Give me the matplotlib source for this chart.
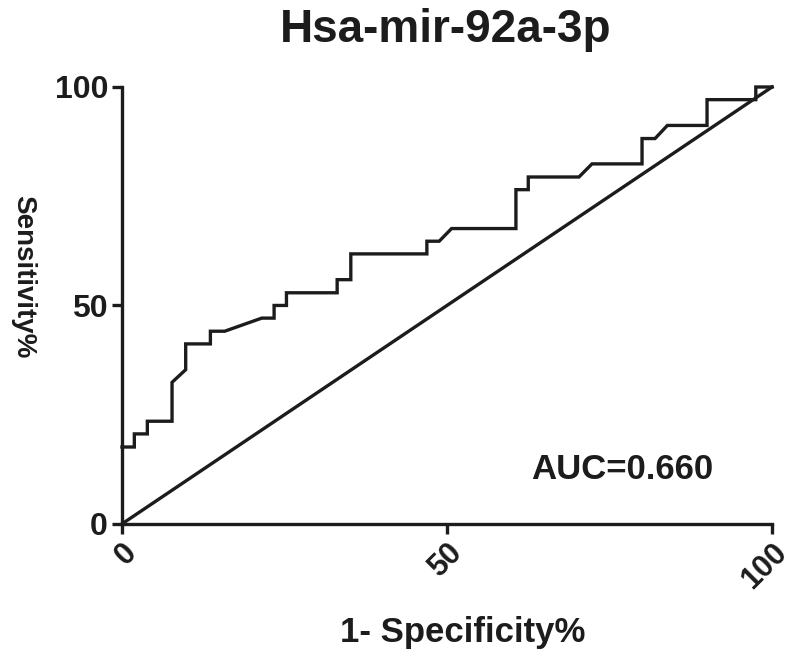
"""
ROC curve for Hsa-mir-92a-3p, redrawn with matplotlib.
"""

import matplotlib
import matplotlib.pyplot as plt

matplotlib.use('Agg')

# ROC curve vertices (1 - specificity %, sensitivity %)
fpr = [0, 1.9, 1.9, 3.9, 3.9, 7.7, 7.7, 9.8, 9.8, 13.6, 13.6, 15.8, 21.5,
       23.4, 23.4, 25.3, 25.3, 33.1, 33.1, 35.2, 35.2, 46.9, 46.9, 48.8,
       50.7, 60.6, 60.6, 62.5, 62.5, 70.3, 72.3, 80.0, 80.0, 82.0, 83.9,
       90.0, 90.0, 97.5, 97.5, 100]
tpr = [17.6, 17.6, 20.6, 20.6, 23.5, 23.5, 32.4, 35.3, 41.2, 41.2, 44.1,
       44.1, 47.1, 47.1, 50.0, 50.0, 52.9, 52.9, 55.9, 55.9, 61.8, 61.8,
       64.7, 64.7, 67.6, 67.6, 76.5, 76.5, 79.4, 79.4, 82.4, 82.4, 88.2,
       88.2, 91.2, 91.2, 97.1, 97.1, 100, 100]
ref_line = [0, 100]
ticks = [0, 50, 100]
auc_text = "AUC=0.660"

plt.rcParams['font.family'] = ['Liberation Sans', 'DejaVu Sans']
plt.rcParams['font.weight'] = 'bold'

LINE = "#1c1c1c"

fig = plt.figure(figsize=(7.87, 6.59), dpi=100)
ax = fig.add_axes([0.155, 0.205, 0.826, 0.663])

ax.plot(fpr, tpr, color=LINE, lw=2.4, clip_on=False, solid_joinstyle='miter')
ax.plot(ref_line, ref_line, color=LINE, lw=2.4, clip_on=False)

ax.set_xlim(0, 100)
ax.set_ylim(0, 100)
ax.set_xticks(ticks)
ax.set_yticks(ticks)

for side in ("top", "right"):
    ax.spines[side].set_visible(False)
for side in ("left", "bottom"):
    ax.spines[side].set_linewidth(2.4)
    ax.spines[side].set_color(LINE)

ax.tick_params(axis='both', direction='out', length=7, width=2.4,
               color=LINE, labelsize=23, pad=3, labelcolor=LINE)
ax.tick_params(axis='x', labelsize=22)
plt.setp(ax.get_xticklabels(), rotation=45, ha='right',
         rotation_mode='anchor', fontweight='bold')
plt.setp(ax.get_yticklabels(), fontweight='bold')

ax.text(63, 12.4, auc_text, fontsize=25, fontweight='bold',
        va='center', ha='left', color=LINE)

fig.text(0.566, 0.954, "Hsa-mir-92a-3p", fontsize=33, fontweight='bold',
         ha='center', va='center', color=LINE)
fig.text(0.588, 0.040, "1- Specificity%", fontsize=25, fontweight='bold',
         ha='center', va='center', color=LINE)
fig.text(0.030, 0.580, "Sensitivity%", fontsize=20, fontweight='bold',
         ha='center', va='center', rotation=270, color=LINE)

fig.savefig("out.png", dpi=100)
